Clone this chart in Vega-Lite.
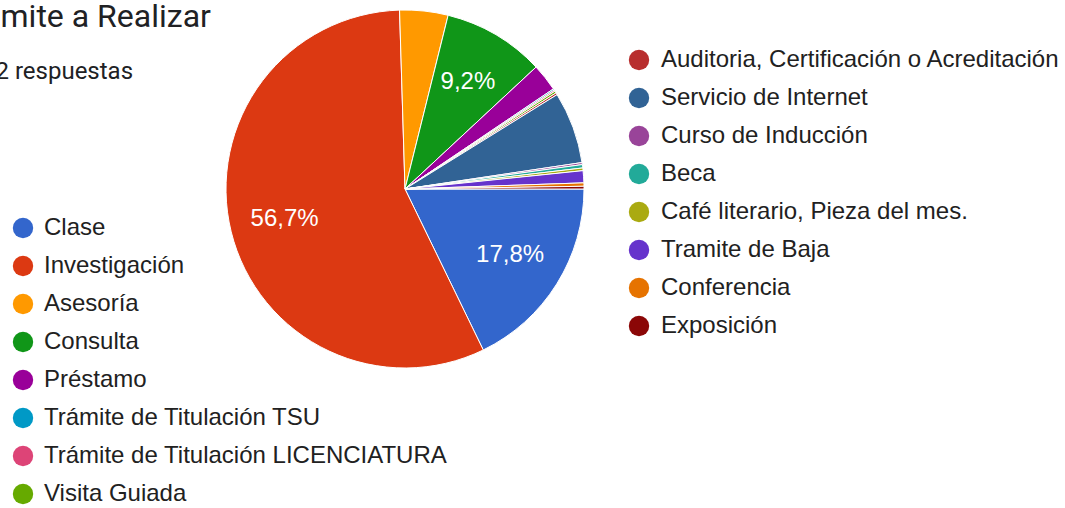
{
  "$schema": "https://vega.github.io/schema/vega-lite/v6.json",
  "width": 358,
  "height": 358,
  "autosize": {"type": "none"},
  "padding": {"left": 226, "top": 10, "right": 481, "bottom": 140},
  "background": "white",
  "config": {"view": {"stroke": null}},
  "title": {
    "text": "Trámite a Realizar",
    "subtitle": "1652 respuestas",
    "anchor": "start",
    "frame": "group",
    "orient": "top",
    "font": "Roboto",
    "fontSize": 32,
    "fontWeight": "normal",
    "color": "#202124",
    "subtitleFont": "Roboto",
    "subtitleFontSize": 24,
    "subtitleColor": "#202124",
    "subtitlePadding": 26,
    "dx": -271,
    "dy": 77,
    "offset": 0
  },
  "data": {
    "values": [
      {"idx": 1, "cat": "Clase", "count": 294, "label": "17,8%"},
      {"idx": 2, "cat": "Investigación", "count": 937, "label": "56,7%"},
      {"idx": 3, "cat": "Asesoría", "count": 72, "label": ""},
      {"idx": 4, "cat": "Consulta", "count": 152, "label": "9,2%"},
      {"idx": 5, "cat": "Préstamo", "count": 41, "label": ""},
      {"idx": 6, "cat": "Trámite de Titulación TSU", "count": 2, "label": ""},
      {"idx": 7, "cat": "Trámite de Titulación LICENCIATURA", "count": 2, "label": ""},
      {"idx": 8, "cat": "Visita Guiada", "count": 3, "label": ""},
      {"idx": 9, "cat": "Auditoria, Certificación o Acreditación", "count": 3, "label": ""},
      {"idx": 10, "cat": "Servicio de Internet", "count": 107, "label": ""},
      {"idx": 11, "cat": "Curso de Inducción", "count": 3, "label": ""},
      {"idx": 12, "cat": "Beca", "count": 5, "label": ""},
      {"idx": 13, "cat": "Café literario, Pieza del mes.", "count": 4, "label": ""},
      {"idx": 14, "cat": "Tramite de Baja", "count": 18, "label": ""},
      {"idx": 15, "cat": "Conferencia", "count": 5, "label": ""},
      {"idx": 16, "cat": "Exposición", "count": 4, "label": ""}
    ]
  },
  "layer": [
    {
      "mark": {"type": "arc", "stroke": "#ffffff", "strokeWidth": 1},
      "encoding": {
        "theta": {"field": "count", "type": "quantitative", "stack": true, "scale": {"range": [1.5707963, 7.8539816]}},
        "order": {"field": "idx", "type": "quantitative"},
        "color": {
          "field": "cat", "type": "nominal", "legend": null,
          "scale": {
            "domain": ["Clase", "Investigación", "Asesoría", "Consulta", "Préstamo", "Trámite de Titulación TSU", "Trámite de Titulación LICENCIATURA", "Visita Guiada", "Auditoria, Certificación o Acreditación", "Servicio de Internet", "Curso de Inducción", "Beca", "Café literario, Pieza del mes.", "Tramite de Baja", "Conferencia", "Exposición"],
            "range": ["#3366cc", "#dc3912", "#ff9900", "#109618", "#990099", "#0099c6", "#dd4477", "#66aa00", "#b82e2e", "#316395", "#994499", "#22aa99", "#aaaa11", "#6633cc", "#e67300", "#8b0707"]
          }
        }
      }
    },
    {
      "mark": {"type": "text", "radius": 124, "fill": "#ffffff", "font": "Liberation Sans", "fontSize": 24, "align": "center", "baseline": "middle"},
      "encoding": {
        "theta": {"field": "count", "type": "quantitative", "stack": true},
        "order": {"field": "idx", "type": "quantitative"},
        "text": {"field": "label", "type": "nominal"}
      }
    },
    {
      "transform": [{"filter": {"field": "cat", "oneOf": ["Clase", "Investigación", "Asesoría", "Consulta", "Préstamo", "Trámite de Titulación TSU", "Trámite de Titulación LICENCIATURA", "Visita Guiada"]}}],
      "mark": {"type": "circle", "opacity": 0},
      "encoding": {
        "color": {
          "field": "cat", "type": "nominal",
          "scale": {
            "domain": ["Clase", "Investigación", "Asesoría", "Consulta", "Préstamo", "Trámite de Titulación TSU", "Trámite de Titulación LICENCIATURA", "Visita Guiada"],
            "range": ["#3366cc", "#dc3912", "#ff9900", "#109618", "#990099", "#0099c6", "#dd4477", "#66aa00"]
          },
          "legend": {"orient": "none", "legendX": -215, "legendY": 206, "title": null, "symbolType": "circle", "symbolSize": 415, "symbolStrokeWidth": 0, "symbolOpacity": 1, "labelFont": "Liberation Sans", "labelFontSize": 24, "labelColor": "#212121", "labelOffset": 9, "rowPadding": 14, "labelLimit": 0, "padding": 0}
        }
      }
    },
    {
      "transform": [{"filter": {"field": "cat", "oneOf": ["Auditoria, Certificación o Acreditación", "Servicio de Internet", "Curso de Inducción", "Beca", "Café literario, Pieza del mes.", "Tramite de Baja", "Conferencia", "Exposición"]}}],
      "mark": {"type": "circle", "opacity": 0},
      "encoding": {
        "color": {
          "field": "cat", "type": "nominal",
          "scale": {
            "domain": ["Auditoria, Certificación o Acreditación", "Servicio de Internet", "Curso de Inducción", "Beca", "Café literario, Pieza del mes.", "Tramite de Baja", "Conferencia", "Exposición"],
            "range": ["#b82e2e", "#316395", "#994499", "#22aa99", "#aaaa11", "#6633cc", "#e67300", "#8b0707"]
          },
          "legend": {"orient": "none", "legendX": 401, "legendY": 38, "title": null, "symbolType": "circle", "symbolSize": 415, "symbolStrokeWidth": 0, "symbolOpacity": 1, "labelFont": "Liberation Sans", "labelFontSize": 24, "labelColor": "#212121", "labelOffset": 10, "rowPadding": 14, "labelLimit": 0, "padding": 0}
        }
      }
    }
  ],
  "resolve": {"scale": {"color": "independent"}}
}
